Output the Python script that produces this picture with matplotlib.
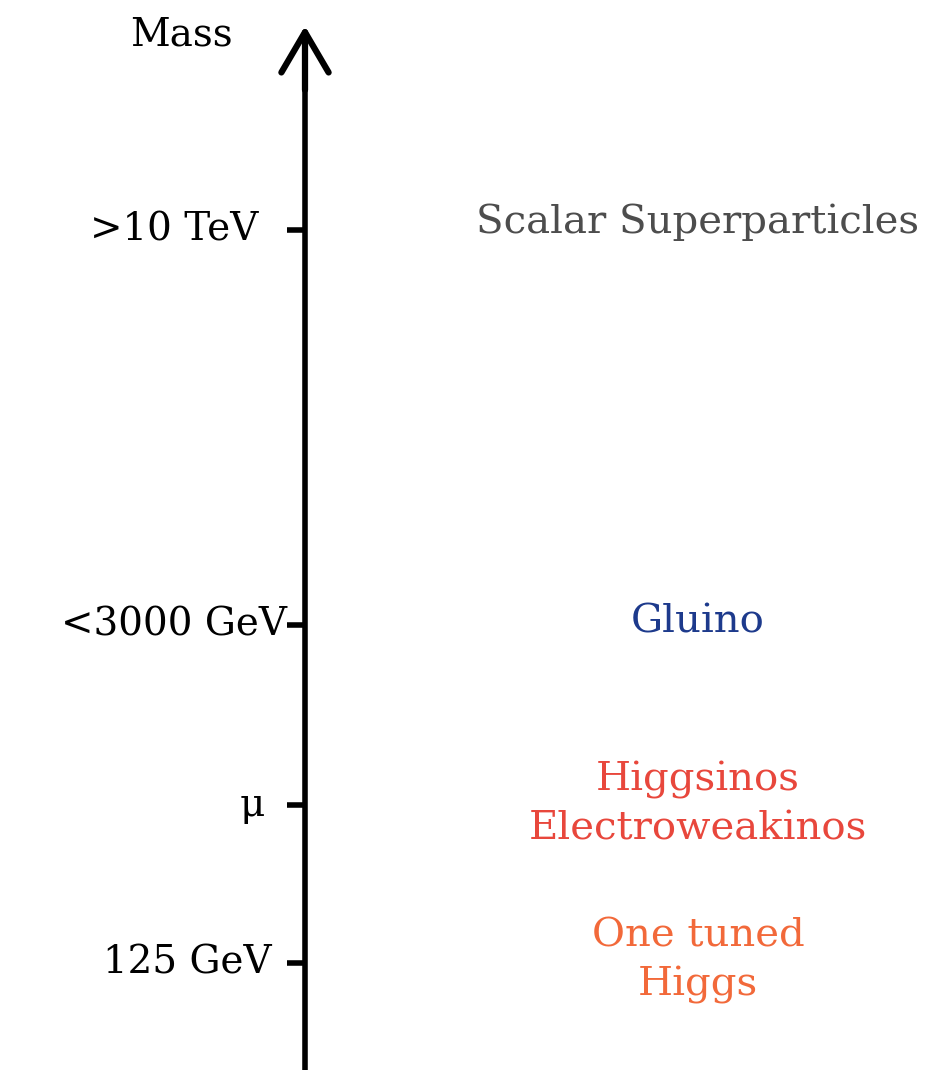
import matplotlib
matplotlib.use("Agg")
import matplotlib.pyplot as plt

# schematic mass scale (arbitrary units, bottom = 0, top = 1070)
level_labels = [">10 TeV", "<3000 GeV", "μ", "125 GeV"]
level_values = [840, 445, 265, 107]

particle_names = ["Scalar Superparticles", "Gluino", "Higgsinos\nElectroweakinos", "One tuned\nHiggs"]
particle_values = [848, 448, 266, 109]
particle_colors = ["#4d4d4d", "#1d3a8c", "#e8473c", "#f2693a"]

FONT = "DejaVu Serif"
AXIS_X = 305


def main():
    fig = plt.figure(figsize=(9.38, 10.70), dpi=100)
    ax = fig.add_axes([0, 0, 1, 1])
    ax.set_xlim(0, 938)
    ax.set_ylim(0, 1070)

    for s in ["top", "right", "bottom"]:
        ax.spines[s].set_visible(False)
    ax.spines["left"].set_position(("data", AXIS_X))
    ax.spines["left"].set_linewidth(4)
    ax.spines["left"].set_bounds(0, 1035)
    ax.set_xticks([])

    ax.set_yticks(level_values)
    ax.set_yticklabels([])
    ax.tick_params(axis="y", direction="out", length=13, width=4)

    # labels placed by hand-ish offsets like the sketched original
    gaps = [47, 18, 40, 33]
    for lab, val, gap in zip(level_labels, level_values, gaps):
        ax.text(AXIS_X - gap, val, lab, fontsize=28, family=FONT,
                ha="right", va="center")

    # arrowhead on top of the axis
    ax.annotate("", xy=(AXIS_X, 1044), xytext=(AXIS_X, 980),
                arrowprops=dict(arrowstyle="->,head_length=2.9,head_width=1.7",
                                lw=4.5, color="black", shrinkA=0, shrinkB=0))
    ax.text(181, 1035, "Mass", fontsize=28, family=FONT, ha="center", va="center")

    for name, val, col in zip(particle_names, particle_values, particle_colors):
        ax.text(698, val, name, fontsize=29, family=FONT, color=col,
                ha="center", va="center", linespacing=1.4)

    fig.savefig("out.png", dpi=100)


if __name__ == "__main__":
    main()
